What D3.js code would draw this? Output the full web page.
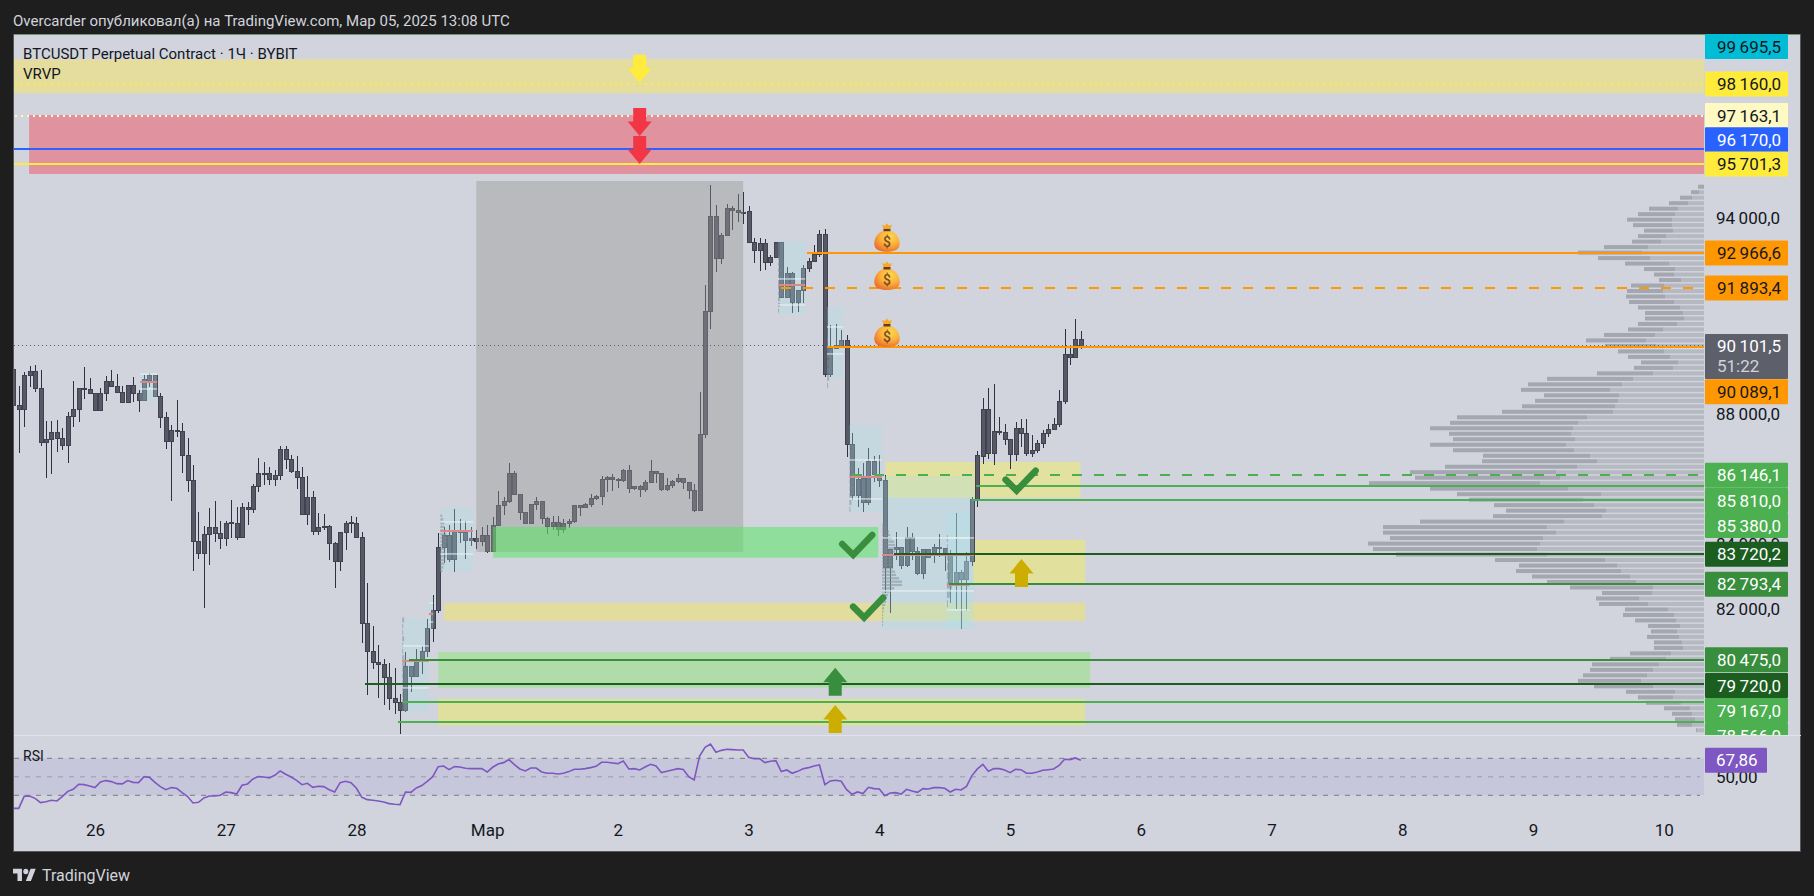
<!DOCTYPE html>
<html>
<head>
<meta charset="utf-8">
<script src="https://cdnjs.cloudflare.com/ajax/libs/d3/7.8.5/d3.min.js"></script>
<style>
  html, body { margin: 0; padding: 0; background: #1e1e1e; overflow: hidden; }
  text { font-family: Roboto, sans-serif; }
</style>
</head>
<body>
<div id="chart"></div>
<script>
// hourly bars, first bar is Feb 25 09:00
const opens = [
  89378,88293,88170,89214,89337,88815,87156,87248,87463,87279,
  87064,87955,88170,88815,88784,88661,88129,88661,89019,88876,
  88692,88385,88907,88661,88446,89060,89214,88569,87924,87187,
  87525,87494,86757,85989,84116,83747,84331,84546,84361,84208,
  84669,84669,84228,85160,85098,85805,86204,86204,86020,86122,
  86941,86634,86266,86081,84945,85467,84423,84546,84576,84055,
  83502,84392,84669,84669,84239,81597,80738,80400,80328,79939,
  79294,79171,78925,80277,79960,80451,80738,81444,81997,83932,
  84300,83563,84423,84392,84136,84208,84116,84300,83798,84607,
  85221,85323,86183,85558,85006,84658,85251,85343,84811,84565,
  84688,84473,84658,84729,85221,85149,85251,85436,85497,86019,
  86080,86019,85978,86296,85733,85804,85702,85927,86265,86193,
  85702,85835,85937,86050,85927,85681,85057,87391,91168,94096,
  92806,93513,94342,94270,94219,94250,93297,93052,93267,92683,
  92827,93297,91598,92345,91445,91813,92489,92704,92939,93533,
  89244,90042,90053,90288,87094,85518,86029,85303,86562,86152,
  85988,83317,83869,83931,83368,84217,83798,83112,83849,83726,
  83931,83900,83675,82825,83163,82948,83491,85384,86716,88169,
  86808,87494,87463,87238,86777,87586,87432,86808,86900,87125,
  87422,87545,87698,88405,89858,89756,90319
];
const closes = [
  88282,88170,89214,89337,88815,87156,87248,87463,87279,87064,
  87955,88170,88815,88805,88661,88129,88661,89019,88876,88692,
  88385,88897,88661,88446,89071,89214,88569,87924,87187,87525,
  87504,86757,85989,84116,83747,84331,84546,84361,84208,84669,
  84679,84228,85160,85098,85805,86204,86184,86020,86122,86941,
  86634,86266,86081,84945,85467,84423,84546,84576,84055,83502,
  84392,84669,84679,84239,81597,80738,80400,80328,79939,79294,
  79171,78925,80277,79960,80451,80738,81444,81997,83932,84300,
  83563,84423,84402,84136,84208,84116,84300,83798,84607,85221,
  85323,86183,85558,85006,84658,85251,85343,84811,84565,84688,
  84473,84658,84729,85221,85149,85251,85436,85497,86019,86080,
  86019,86009,86296,85733,85804,85702,85927,86265,86193,85702,
  85835,85937,86050,85927,85681,85057,87401,91179,94096,92806,
  93513,94342,94280,94219,94229,93297,93052,93267,92683,92837,
  93297,91598,92345,91445,91823,92499,92704,92939,93533,89244,
  90042,90124,90288,87094,85518,86019,85303,86562,86152,85978,
  83317,83869,83931,83368,84217,83798,83112,83849,83624,83931,
  83890,83726,82825,83163,82948,83501,85384,86736,88169,86808,
  87494,87453,87238,86777,87586,87422,86808,86910,87125,87432,
  87555,87709,88415,89858,89756,90319,90101
];
const highs = [
  89378,88886,89326,89500,89531,89378,87811,87811,87842,87586,
  88078,89030,88815,89460,89132,88661,88815,89183,89378,89255,
  88876,88907,89163,88763,89224,89275,89214,88661,88078,87689,
  88446,87740,87279,86460,85006,84576,85140,85344,84730,84730,
  85385,85160,85283,85313,85866,86675,86552,86399,86307,87033,
  87033,86757,86726,86399,86122,85651,84986,84955,84607,84095,
  84392,84730,84884,84853,84402,82836,81515,80932,80502,80379,
  80226,79427,80707,80287,80809,80901,81720,82457,84372,84566,
  84617,85099,84792,84730,84556,84454,84556,84607,84853,85662,
  85487,86510,86265,85569,85006,85261,85477,85343,84873,84893,
  84893,84791,84791,85231,85231,85282,85569,85538,86121,86121,
  86183,86050,86326,86459,85814,85845,85999,86613,86275,86224,
  86050,85999,86183,86050,85927,85876,88691,91977,95058,94444,
  93574,94475,94413,94782,94843,94413,93420,93420,93400,92909,
  93318,93297,92530,92397,91834,92601,92806,93205,93676,93697,
  90749,90790,90605,90452,87432,86357,86511,86971,86736,86766,
  86162,83880,84402,83951,84545,84361,83951,83849,83849,84023,
  84340,83900,83849,84975,83235,83798,85466,86890,88517,88814,
  88947,87934,87719,87248,87780,87862,87862,87381,87227,87535,
  87719,87903,88763,90636,90043,90944,90565
];
const lows = [
  88282,86839,87637,88866,88712,87044,86071,86184,86870,86931,
  86532,87627,87791,88497,88661,88129,88129,88436,88866,88682,
  88374,88385,88405,88098,88436,88866,88559,87607,86962,85365,
  87330,86225,85641,83215,83583,82079,83399,84106,83891,83983,
  84228,84167,84228,84618,84996,85641,85836,85856,85826,86010,
  86337,86214,85733,84945,84618,84321,84321,84474,83553,82693,
  83215,83860,84382,84239,81004,79407,80205,79315,79100,78946,
  78823,78209,78864,79499,79939,80052,80574,81035,81925,83440,
  83491,83184,84054,83584,83973,83870,83983,83768,83788,84587,
  84924,85303,85548,84770,84648,84648,85077,84637,84340,84463,
  84289,84381,84514,84668,84893,85139,85180,85384,85231,85640,
  85651,85743,85947,85589,85691,85487,85640,85896,85896,85671,
  85661,85743,85917,85722,85415,85026,85057,87299,90646,92376,
  92632,93502,93676,93932,93861,93287,92663,92427,92448,92581,
  92827,91578,91578,91117,91148,91424,92397,92704,92857,89172,
  89152,90042,90042,86695,85384,85159,85026,85231,85947,85794,
  82518,81904,83542,83265,83317,83542,83081,82958,83593,83460,
  83644,83204,82231,82027,81423,81986,83358,85159,86490,86644,
  86449,87391,87084,86347,86583,87013,86746,86716,86838,86982,
  87330,87545,87637,88343,89541,89756,90033
];
const rsiValues = [
  15.9,15.9,28.9,29.3,26.7,22.1,23.1,24.6,23.9,28.6,
  34.3,36.5,41.9,41.5,40.1,38.3,44.4,45.9,44.8,42.6,
  42.3,45.9,44.0,43.7,50.2,49.4,44.0,39.4,36.1,38.3,
  37.6,32.9,28.6,21.7,22.4,27.1,29.3,29.3,30.0,33.6,
  32.9,31.4,40.8,42.3,47.7,50.2,49.8,48.7,51.6,56.3,
  52.7,49.8,46.2,41.5,43.0,38.6,39.7,39.4,36.1,33.6,
  43.7,45.1,43.7,37.6,27.8,25.3,24.6,23.9,22.8,21.0,
  20.3,19.9,33.6,33.2,37.9,40.5,45.1,50.2,61.0,61.7,
  57.8,61.0,60.6,59.2,58.8,58.8,58.8,55.2,60.3,63.9,
  65.3,68.6,63.1,58.5,56.3,59.5,59.5,55.2,53.8,53.8,
  53.1,53.8,55.6,58.1,58.1,58.8,59.9,61.3,65.7,65.7,
  65.0,64.2,67.1,58.5,58.8,57.4,60.6,63.5,61.7,54.5,
  55.9,57.4,58.8,57.8,50.2,46.6,72.5,81.9,85.5,76.5,
  78.6,79.7,79.4,79.0,79.0,71.1,69.6,69.6,65.3,66.8,
  67.5,55.6,57.4,53.8,55.9,58.8,59.9,61.7,62.8,41.5,
  45.5,46.2,45.1,36.1,31.1,33.6,31.8,38.6,37.2,36.8,
  29.6,32.5,32.9,31.4,36.5,34.7,33.2,37.2,36.8,38.3,
  38.3,37.6,33.6,36.5,35.8,39.7,51.3,58.5,63.5,55.9,
  58.8,58.8,57.4,54.5,58.1,57.7,53.8,53.8,55.2,57.0,
  57.7,58.5,62.4,68.9,68.6,70.4,67.86
];

// visible range volume profile, top row to bottom row
const volLight = [
  0,15,36,48,78,87,96,96,93,114,129,168,186,162,105,87,90,69,120,123,
  117,90,72,63,60,81,123,147,174,144,120,102,78,93,153,213,246,282,255,258,
  267,273,351,378,393,399,387,414,390,342,321,381,444,432,492,408,309,363,330,294,
  306,420,471,444,483,492,501,471,297,261,249,222,204,153,156,195,168,108,90,84,
  72,81,75,66,63,99,114,135,153,171,189,153,87,93,69,42,36,27,36,21
];
const volDark = [
  18,24,36,57,87,111,135,117,87,84,87,132,192,156,132,93,60,66,99,108,
  117,135,126,114,117,117,105,153,180,153,138,126,111,117,168,258,282,267,225,249,
  279,333,390,384,429,366,366,408,363,321,345,396,438,435,513,414,432,342,300,300,
  327,432,492,519,459,516,492,453,330,294,315,294,267,249,150,129,147,129,153,123,
  96,78,96,84,87,123,168,201,189,192,189,177,147,105,105,78,60,60,45,3
];
const profileHigh = 95006;
const profileLow = 78312;

const dayBars = [15, 39, 63, 87, 111, 135, 159, 183, 207, 231, 255, 279, 303];
const dayLabels = ['26', '27', '28', 'Мар', '2', '3', '4', '5', '6', '7', '8', '9', '10'];
const priceTicks = [94000, 88000, 84000, 82000];

// zones: bar from, bar to, price top, price bottom
const zoneFrom = [-3, 2.9, 160.1, 176.2, 79.1, 78, 78];
const zoneTo = [311, 311, 195.9, 196.8, 196.8, 197.7, 196.8];
const zoneTop = [98919, 97208, 86552, 84157, 82222, 80717, 79274];
const zoneBottom = [97874, 95396, 85456, 82775, 81669, 79621, 78454];
const zoneFill = ['#e5dd9d', '#e0929e', '#e3e19f', '#e2e09d', '#e3dd9d', '#b0dcaa', '#e0e09e'];

// anchored volume profile boxes
const boxFrom = [23.3, 71.4, 76.3, 78.4, 140.4, 149.4, 153.5, 159.5, 171.4];
const boxTo = [26.4, 76.3, 77.1, 84.4, 145.4, 152.4, 159.5, 176.4, 175.5];
const boxTop = [89285, 81731, 82406, 85139, 93339, 91312, 87688, 86122, 84986];
const boxBottom = [88425, 78844, 81423, 83174, 91097, 89132, 85016, 81423, 81423];
const boxHigh = [89254, 80901, 82222, 84709, 92172, 90698, 86613, 84218, 84218];
const boxLow = [88794, 79612, 81638, 83727, 91373, 89869, 85416, 82590, 82007];
const boxPoc = [89009, 80440, 81884, 84433, 91988, 90084, 86091, 83696, 82775];

const miniBox = [1, 3, 4, 5, 6, 7, 8];
const miniHigh = [81700, 84900, 92800, 90300, 87000, 84617, 84200];
const miniLow = [79200, 83200, 91200, 88900, 85100, 81546, 82200];
const miniVols = [
  [2,1,1,2,1,1,2,3,2,1,2,2,1,1],
  [2,3,4,4,5,6,7,7,6,5,5,6,5,4,3,2],
  [2,2,3,3,2,3,3,2,2,1],
  [1,1,2,2,3,2,1],
  [1,2,2,3,2,2,3,3,2,1],
  [3,5,7,8,10,12,13,13,13,11,9,9,10,11,13,14,17,20,20,12,9,6,5,4,3,2,1.5,1,1,1,1],
  [1,1,2,2,3,5,3,1]
];

// horizontal levels
const levelPrice = [98160, 97163.1, 96170, 95701.3, 92966.6, 91893.4, 90089.1, 86146.1, 85810, 85380, 83720.2, 82793.4, 80475, 79720, 79167, 78566];
const levelFrom = [-3, -3, -3, -3, 145.7, 141, 149.6, 154, 176.8, 175.8, 161.7, 171.8, 72.7, 64.6, 71.6, 70.6];
const levelColor = ['#ffeb3b', '#fff9c4', '#2962ff', '#ffeb3b', '#ff9800', '#ff9800', '#ff9800', '#4caf50', '#4caf50', '#4caf50', '#1b5e20', '#388e3c', '#388e3c', '#1b5e20', '#4caf50', '#4caf50'];
const levelDash = ['2,4', '2,4', null, null, null, '10,12', null, '10,12', null, null, null, null, null, null, null, null];

// price labels on the right scale
const labelPrice = [99695.5, 98160, 97163.1, 96170, 95701.3, 92966.6, 91893.4, 90089.1, 86146.1, 85810, 85380, 83720.2, 82793.4, 80475, 79720, 79167, 78566];
const labelShift = [12.5, 0, -1, -9, 0, 0, 0, 45, 0, 14.4, 25.4, 0, 0, 0, 1, 8, 13.5];
const labelFill = ['#00bcd4', '#ffeb3b', '#fff9c4', '#2962ff', '#ffeb3b', '#ff9800', '#ff9800', '#ff9800', '#4caf50', '#4caf50', '#4caf50', '#1b5e20', '#388e3c', '#388e3c', '#1b5e20', '#4caf50', '#4caf50'];
const labelInk = ['#131722', '#131722', '#131722', '#fff', '#131722', '#131722', '#131722', '#131722', '#fff', '#fff', '#fff', '#fff', '#fff', '#fff', '#fff', '#fff', '#fff'];

const lastPrice = 90101.5;
const lastRsi = 67.86;
const rsiBands = [70, 50, 30];

// arrows and marks: bar, price of the tip
const arrowBar = [115, 115, 115, 185.1, 150.9, 150.9];
const arrowTip = [98200, 96563, 95703, 83573, 80235, 79090];
const arrowDir = [1, 1, 1, -1, -1, -1];
const arrowColor = ['#ffeb3b', '#f23645', '#f23645', '#ccad00', '#388e3c', '#ccad00'];
const checkBar = [154.2, 156.2, 184.2];
const checkPrice = [83696, 81770, 85671];
const bagBar = 160.4;
const bagPrice = [93010, 91834, 90084];

const width = 1814, height = 896;
const paneLeft = 14, paneRight = 1704, paneTop = 34, paneBottom = 735;

const fmt = d3.formatLocale({ decimal: ',', thousands: '\u2009', grouping: [3], currency: ['', ''] });
const priceFmt = fmt.format(',.1f');
const rsiFmt = fmt.format('.2f');

const x = d3.scaleLinear().domain([0, 310.4]).range([13.3, paneRight]);
const y = d3.scaleLinear().domain([99696, 78157]).range([paneTop, 735.3]);
const yRsi = d3.scaleLinear().domain([70, 30]).range([758.3, 795.3]);
const xVol = d3.scaleLinear().domain([0, 3]).range([0, 1]);

const svg = d3.select('#chart').append('svg')
  .attr('width', width).attr('height', height)
  .style('display', 'block');

const defs = svg.append('defs');
defs.append('clipPath').attr('id', 'pane').append('rect')
  .attr('x', paneLeft).attr('y', paneTop).attr('width', paneRight - paneLeft).attr('height', paneBottom - paneTop);
defs.append('clipPath').attr('id', 'scale').append('rect')
  .attr('x', paneRight).attr('y', paneTop).attr('width', 100).attr('height', paneBottom - paneTop);
defs.append('clipPath').attr('id', 'rsiPane').append('rect')
  .attr('x', paneLeft).attr('y', paneBottom).attr('width', paneRight - paneLeft).attr('height', 100);
const bagGrad = defs.append('radialGradient').attr('id', 'bag').attr('cx', '62%').attr('cy', '30%').attr('r', '78%');
bagGrad.append('stop').attr('offset', '0%').attr('stop-color', '#ffd94f');
bagGrad.append('stop').attr('offset', '50%').attr('stop-color', '#fbb03b');
bagGrad.append('stop').attr('offset', '100%').attr('stop-color', '#e8672a');

// frame
svg.append('rect').attr('x', 13.5).attr('y', 34.5).attr('width', 1787).attr('height', 817)
  .attr('fill', '#d1d4dc').attr('stroke', '#565656');
svg.append('line').attr('x1', 14).attr('x2', 1800).attr('y1', 34.5).attr('y2', 34.5).attr('stroke', '#6a9a6a');
svg.append('line').attr('x1', 14).attr('x2', 1801).attr('y1', 735.5).attr('y2', 735.5).attr('stroke', '#e0e3eb');

svg.append('text').attr('x', 13).attr('y', 25.5).attr('fill', '#d1d4dc').attr('font-size', 15)
  .text('Overcarder опубликовал(а) на TradingView.com, Мар 05, 2025 13:08 UTC');

const pane = svg.append('g').attr('clip-path', 'url(#pane)');

// zones behind the candles
pane.selectAll('.zone').data(zoneFrom).join('rect').attr('class', 'zone')
  .attr('x', d => x(d))
  .attr('width', (d, i) => x(zoneTo[i]) - x(d))
  .attr('y', (d, i) => y(zoneTop[i]))
  .attr('height', (d, i) => y(zoneBottom[i]) - y(zoneTop[i]))
  .attr('fill', (d, i) => zoneFill[i]);

// volume profile
const rowY = d3.scalePoint().domain(d3.range(volLight.length)).range([y(profileHigh), y(profileLow)]);
const prof = pane.append('g');
prof.selectAll('.vl').data(volLight).join('rect').attr('class', 'vl')
  .attr('x', d => paneRight - xVol(d)).attr('width', d => xVol(d))
  .attr('y', (d, i) => rowY(i) - 2).attr('height', 4).attr('fill', '#b6b9c2');
prof.selectAll('.vd').data(volDark).join('rect').attr('class', 'vd')
  .attr('x', (d, i) => paneRight - xVol(volLight[i]) - xVol(d)).attr('width', d => xVol(d))
  .attr('y', (d, i) => rowY(i) - 2).attr('height', 4).attr('fill', '#a4a7b0');

// candles
const barIdx = d3.range(opens.length);
const candles = pane.append('g').attr('shape-rendering', 'crispEdges');
candles.selectAll('.wick').data(barIdx).join('line').attr('class', 'wick')
  .attr('x1', i => Math.round(x(i)) + 0.5).attr('x2', i => Math.round(x(i)) + 0.5)
  .attr('y1', i => y(highs[i])).attr('y2', i => y(lows[i]))
  .attr('stroke', '#2e3040');
candles.selectAll('.body').data(barIdx).join('rect').attr('class', 'body')
  .attr('x', i => Math.round(x(i)) - 1.5).attr('width', 4)
  .attr('y', i => y(Math.max(opens[i], closes[i])))
  .attr('height', i => Math.max(1, Math.abs(y(opens[i]) - y(closes[i]))))
  .attr('fill', '#565865').attr('stroke', '#40424f');

// grey range and the strong green zone sit over the candles
pane.append('rect')
  .attr('x', x(85)).attr('width', x(134) - x(85))
  .attr('y', y(95181)).attr('height', y(83788) - y(95181))
  .attr('fill', 'rgb(147,147,147)').attr('fill-opacity', 0.41);
pane.append('rect')
  .attr('x', x(88.1)).attr('width', x(158.8) - x(88.1))
  .attr('y', y(84556)).attr('height', y(83613) - y(84556))
  .attr('fill', 'rgb(79,232,90)').attr('fill-opacity', 0.5);

// anchored profile boxes
pane.selectAll('.box').data(boxFrom).join('rect').attr('class', 'box')
  .attr('x', d => x(d)).attr('width', (d, i) => x(boxTo[i]) - x(d))
  .attr('y', (d, i) => y(boxTop[i])).attr('height', (d, i) => y(boxBottom[i]) - y(boxTop[i]))
  .attr('fill', 'rgb(170,225,233)').attr('fill-opacity', 0.31);

miniVols.forEach((vols, k) => {
  const b = miniBox[k];
  const ry = d3.scalePoint().domain(d3.range(vols.length)).range([y(miniHigh[k]), y(miniLow[k])]);
  const h = Math.max(1.6, (y(miniLow[k]) - y(miniHigh[k])) / vols.length - 1);
  pane.append('g').selectAll('rect').data(vols).join('rect')
    .attr('x', x(boxFrom[b])).attr('width', d => d)
    .attr('y', (d, i) => ry(i) - h / 2).attr('height', h)
    .attr('fill', '#7f8794').attr('fill-opacity', 0.5);
});

function boxLine(cls, prices, color, w) {
  pane.selectAll('.' + cls).data(prices).join('line').attr('class', cls)
    .attr('x1', (d, i) => x(boxFrom[i])).attr('x2', (d, i) => x(boxTo[i]))
    .attr('y1', d => y(d)).attr('y2', d => y(d))
    .attr('stroke', color).attr('stroke-width', w);
}
boxLine('bh', boxHigh, '#eef3f5', 1);
boxLine('bl', boxLow, '#eef3f5', 1);
boxLine('bp', boxPoc, '#d98a8a', 2);

// last price dotted line
pane.append('line').attr('x1', paneLeft).attr('x2', paneRight)
  .attr('y1', 345.5).attr('y2', 345.5)
  .attr('stroke', '#5d606b').attr('stroke-dasharray', '1,3');

// levels
pane.selectAll('.level').data(levelPrice).join('line').attr('class', 'level')
  .attr('shape-rendering', 'crispEdges')
  .attr('x1', (d, i) => x(levelFrom[i])).attr('x2', paneRight)
  .attr('y1', d => y(d)).attr('y2', d => y(d))
  .attr('stroke', (d, i) => levelColor[i]).attr('stroke-width', 2)
  .attr('stroke-dasharray', (d, i) => levelDash[i]);

// arrows
const arrowShape = 'M0,0 L12,-14.5 L6.5,-14.5 L6.5,-28 L-6.5,-28 L-6.5,-14.5 L-12,-14.5 Z';
pane.selectAll('.arrow').data(arrowBar).join('path').attr('class', 'arrow')
  .attr('d', arrowShape)
  .attr('transform', (d, i) => `translate(${x(d)},${y(arrowTip[i])}) scale(1,${arrowDir[i]})`)
  .attr('fill', (d, i) => arrowColor[i]);

// check marks
pane.selectAll('.check').data(checkBar).join('path').attr('class', 'check')
  .attr('d', 'M-11,-11 L0,0 L19,-20')
  .attr('transform', (d, i) => `translate(${x(d)},${y(checkPrice[i])})`)
  .attr('fill', 'none').attr('stroke', '#388e3c').attr('stroke-width', 6.5)
  .attr('stroke-linecap', 'round').attr('stroke-linejoin', 'miter');

// money bags
const bags = pane.selectAll('.moneybag').data(bagPrice).join('g').attr('class', 'moneybag')
  .attr('transform', d => `translate(${x(bagBar)},${y(d)})`);
bags.append('path')
  .attr('d', 'M-3.5,-21 C-10,-19 -12.7,-13 -12.7,-8 C-12.7,-2 -7,0 0,0 C7,0 12.7,-2 12.7,-8 C12.7,-13 10,-19 3.5,-21 Z')
  .attr('fill', 'url(#bag)');
bags.append('rect').attr('x', -3.5).attr('y', -23).attr('width', 7).attr('height', 2.5).attr('fill', '#6b3a1e');
bags.append('path').attr('d', 'M-3.5,-23 L-5,-27 L-2,-26 L0,-28.5 L2,-26 L5,-27 L3.5,-23 Z').attr('fill', '#f9a825');
bags.append('text').attr('x', 0).attr('y', -5).attr('text-anchor', 'middle')
  .attr('font-size', 14).attr('font-weight', 500).attr('fill', '#7a4a24').text('$');

// price axis
const yAxis = d3.axisRight(y).tickValues(priceTicks).tickSize(0).tickPadding(0).tickFormat(priceFmt);
const axisG = svg.append('g').attr('transform', `translate(${paneRight + 12},-1)`).call(yAxis);
axisG.select('.domain').remove();
axisG.selectAll('text').attr('font-size', 17).attr('font-family', 'Roboto').attr('fill', '#131722');

// price labels
const labels = svg.append('g').attr('clip-path', 'url(#scale)');
labels.selectAll('rect.pl').data(labelPrice).join('rect').attr('class', 'pl')
  .attr('x', paneRight + 1).attr('width', 83).attr('height', 25).attr('rx', 1)
  .attr('y', (d, i) => y(d) + labelShift[i] - 12.5)
  .attr('fill', (d, i) => labelFill[i]);
labels.selectAll('text.pl').data(labelPrice).join('text').attr('class', 'pl')
  .attr('x', paneRight + 13).attr('dy', '0.36em').attr('font-size', 17)
  .attr('y', (d, i) => y(d) + labelShift[i])
  .attr('fill', (d, i) => labelInk[i]).text(priceFmt);

// last price badge
svg.append('rect').attr('x', paneRight + 1).attr('y', 334).attr('width', 83).attr('height', 45).attr('rx', 1).attr('fill', '#5d606b');
svg.append('text').attr('x', paneRight + 13).attr('y', 346).attr('dy', '0.36em').attr('font-size', 17).attr('fill', '#fff').text(priceFmt(lastPrice));
svg.append('text').attr('x', paneRight + 13).attr('y', 365.5).attr('dy', '0.36em').attr('font-size', 17).attr('fill', '#d1d4dc').text('51:22');

// legend
svg.append('text').attr('x', 23).attr('y', 58.5).attr('font-size', 15).attr('fill', '#131722')
  .text('BTCUSDT Perpetual Contract · 1Ч · BYBIT');
svg.append('text').attr('x', 23).attr('y', 79).attr('font-size', 15).attr('fill', '#131722').text('VRVP');

// RSI pane
const rsiG = svg.append('g').attr('clip-path', 'url(#rsiPane)');
rsiG.append('rect').attr('x', paneLeft).attr('width', paneRight - paneLeft)
  .attr('y', yRsi(70)).attr('height', yRsi(30) - yRsi(70)).attr('fill', '#c7c7db');
rsiG.selectAll('.band').data(rsiBands).join('line').attr('class', 'band')
  .attr('x1', paneLeft).attr('x2', 1700)
  .attr('y1', d => yRsi(d)).attr('y2', d => yRsi(d))
  .attr('stroke', d => d === 50 ? '#9a9cab' : '#787b86').attr('stroke-dasharray', '5,6');
rsiG.append('path').datum(rsiValues)
  .attr('d', d3.line().x((d, i) => x(i)).y(d => yRsi(d)))
  .attr('fill', 'none').attr('stroke', '#7e57c2').attr('stroke-width', 1.6);
svg.append('text').attr('x', 23).attr('y', 760.5).attr('font-size', 14).attr('fill', '#131722').text('RSI');

const rsiAxis = d3.axisRight(yRsi).tickValues([50]).tickSize(0).tickPadding(0).tickFormat(rsiFmt);
const rsiAxisG = svg.append('g').attr('transform', `translate(${paneRight + 12},0)`).call(rsiAxis);
rsiAxisG.select('.domain').remove();
rsiAxisG.selectAll('text').attr('font-size', 17).attr('font-family', 'Roboto').attr('fill', '#131722');
svg.append('rect').attr('x', paneRight + 1).attr('y', yRsi(lastRsi) - 12.5).attr('width', 62).attr('height', 25).attr('rx', 1).attr('fill', '#7e57c2');
svg.append('text').attr('x', paneRight + 12).attr('y', yRsi(lastRsi)).attr('dy', '0.36em').attr('font-size', 17).attr('fill', '#fff').text(rsiFmt(lastRsi));

// time axis
const xAxis = d3.axisBottom(x).tickValues(dayBars).tickSize(0).tickPadding(0)
  .tickFormat((d, i) => dayLabels[i]);
const xG = svg.append('g').attr('transform', 'translate(0,824)').call(xAxis);
xG.select('.domain').remove();
xG.selectAll('text').attr('font-size', 17).attr('font-family', 'Roboto').attr('fill', '#131722');

// logo
const logo = svg.append('g').attr('transform', 'translate(13,866) scale(0.64,0.68)').attr('fill', '#d1d4dc');
logo.append('path').attr('d', 'M14 22H7V11H0V4h14v18zM28 22h-8l7.5-18h8L28 22z');
logo.append('circle').attr('cx', 20).attr('cy', 8).attr('r', 4);
svg.append('text').attr('x', 42).attr('y', 881).attr('font-size', 16).attr('fill', '#d1d4dc').text('TradingView');
</script>
</body>
</html>
